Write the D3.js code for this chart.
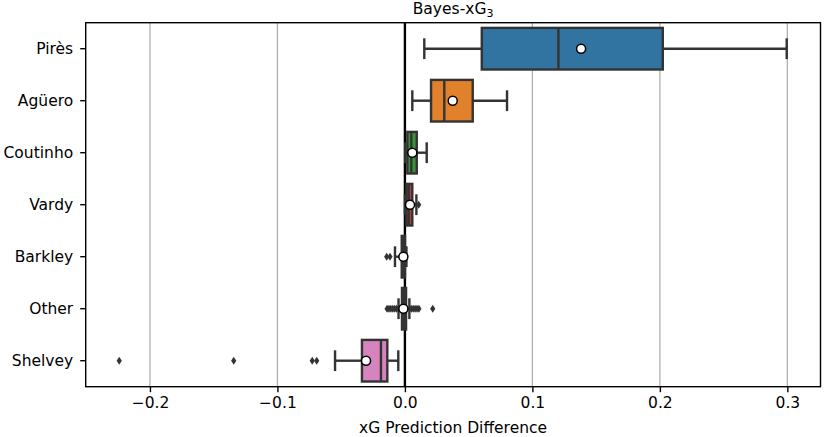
<!DOCTYPE html>
<html>
<head>
<meta charset="utf-8">
<script src="https://cdn.jsdelivr.net/npm/d3@7"></script>
<style>
  body { margin: 0; background: #fff; }
  text { font-family: "DejaVu Sans", sans-serif; fill: #000; }
</style>
</head>
<body>
<div id="chart"></div>
<script>
// values
const players = ["Pirès", "Agüero", "Coutinho", "Vardy", "Barkley", "Other", "Shelvey"];
const whiskerLow = [0.0152, 0.0058, 0.0003, 0.0000, -0.0078, -0.0050, -0.0548];
const q1 = [0.0603, 0.0205, 0.0019, 0.0012, -0.0025, -0.0023, -0.0337];
const medians = [0.1204, 0.0309, 0.0050, 0.0030, -0.0010, -0.0005, -0.0188];
const q3 = [0.2023, 0.0532, 0.0093, 0.0058, 0.0001, 0.0009, -0.0138];
const whiskerHigh = [0.2995, 0.0801, 0.0171, 0.0090, 0.0012, 0.0035, -0.0052];
const means = [0.1382, 0.0375, 0.0058, 0.0040, -0.0012, -0.0012, -0.0305];
const outliers = [
  [],
  [],
  [],
  [0.0108],
  [-0.0143, -0.0117],
  [-0.0140, -0.0125, -0.0110, -0.0095, -0.0080, -0.0065, 0.0050, 0.0065, 0.0080, 0.0095, 0.0110, 0.0218],
  [-0.2241, -0.1343, -0.0727, -0.0692]
];
const colors = ["#3274a1", "#e1812c", "#3a923a", "#c03d3e", "#9372b2", "#845b53", "#d684bd"];
const xTicks = [-0.2, -0.1, 0.0, 0.1, 0.2, 0.3];

const margin = {top: 22.7, right: 3.5, bottom: 50.3, left: 85.7};
const W = 824, H = 437;
const width = W - margin.left - margin.right;
const height = H - margin.top - margin.bottom;
const edge = "#333";
const lw = 2.4;

const svg = d3.select("#chart").append("svg")
  .attr("width", W)
  .attr("height", H);

const g = svg.append("g")
  .attr("transform", `translate(${margin.left},${margin.top})`);

const x = d3.scaleLinear()
  .domain([-0.2504, 0.326])
  .range([0, width]);

const y = d3.scaleBand()
  .domain(players)
  .range([0, height])
  .padding(0);

// grid
g.selectAll(".grid")
  .data(xTicks)
  .enter().append("line")
  .attr("x1", d => x(d)).attr("x2", d => x(d))
  .attr("y1", 0).attr("y2", height)
  .attr("stroke", "#b0b0b0")
  .attr("stroke-width", 1.3);

// zero line
g.append("line")
  .attr("x1", x(0)).attr("x2", x(0))
  .attr("y1", 0).attr("y2", height)
  .attr("stroke", "#000")
  .attr("stroke-width", 2.4);

const boxH = y.bandwidth() * 0.8;
const capH = boxH / 2;

const rows = g.selectAll(".row")
  .data(players)
  .enter().append("g")
  .attr("class", "row")
  .attr("transform", d => `translate(0,${y(d) + y.bandwidth() / 2})`);

// whiskers
rows.append("line")
  .attr("x1", (d, i) => x(whiskerLow[i])).attr("x2", (d, i) => x(q1[i]))
  .attr("stroke", edge).attr("stroke-width", lw);
rows.append("line")
  .attr("x1", (d, i) => x(q3[i])).attr("x2", (d, i) => x(whiskerHigh[i]))
  .attr("stroke", edge).attr("stroke-width", lw);
rows.append("line")
  .attr("x1", (d, i) => x(whiskerLow[i])).attr("x2", (d, i) => x(whiskerLow[i]))
  .attr("y1", -capH / 2).attr("y2", capH / 2)
  .attr("stroke", edge).attr("stroke-width", lw);
rows.append("line")
  .attr("x1", (d, i) => x(whiskerHigh[i])).attr("x2", (d, i) => x(whiskerHigh[i]))
  .attr("y1", -capH / 2).attr("y2", capH / 2)
  .attr("stroke", edge).attr("stroke-width", lw);

// boxes
rows.append("rect")
  .attr("x", (d, i) => x(q1[i]))
  .attr("width", (d, i) => x(q3[i]) - x(q1[i]))
  .attr("y", -boxH / 2)
  .attr("height", boxH)
  .attr("fill", (d, i) => colors[i])
  .attr("stroke", edge)
  .attr("stroke-width", lw);

// medians
rows.append("line")
  .attr("x1", (d, i) => x(medians[i])).attr("x2", (d, i) => x(medians[i]))
  .attr("y1", -boxH / 2).attr("y2", boxH / 2)
  .attr("stroke", edge).attr("stroke-width", lw);

// outliers (diamonds)
const diamond = "M0,-4L2.6,0L0,4L-2.6,0Z";
rows.each(function(d, i) {
  d3.select(this).selectAll(".out")
    .data(outliers[i])
    .enter().append("path")
    .attr("d", diamond)
    .attr("transform", v => `translate(${x(v)},0)`)
    .attr("fill", edge);
});

// means
rows.append("circle")
  .attr("cx", (d, i) => x(means[i]))
  .attr("r", 4.5)
  .attr("fill", "#fff")
  .attr("stroke", "#000")
  .attr("stroke-width", 1.5);

// frame
g.append("rect")
  .attr("width", width).attr("height", height)
  .attr("fill", "none")
  .attr("stroke", "#000")
  .attr("stroke-width", 1.4);

// axes
const xAxis = g.append("g")
  .attr("transform", `translate(0,${height})`)
  .call(d3.axisBottom(x).tickValues(xTicks).tickSize(5.5).tickPadding(5)
    .tickFormat(d => d3.format(".1f")(d).replace("-", "\u2212")));
const yAxis = g.append("g")
  .call(d3.axisLeft(y).tickSize(5.5).tickPadding(7));

[xAxis, yAxis].forEach(a => {
  a.select(".domain").remove();
  a.selectAll(".tick line").attr("stroke", "#000").attr("stroke-width", 1.4);
  a.selectAll("text").style("font-size", "15.5px").attr("fill", "#000");
});

// title
const title = svg.append("text")
  .attr("x", margin.left + width / 2)
  .attr("y", 14)
  .attr("text-anchor", "middle")
  .style("font-size", "15.5px");
title.append("tspan").text("Bayes-xG");
title.append("tspan").attr("dy", 3).style("font-size", "11px").text("3");

// x label
svg.append("text")
  .attr("x", margin.left + width / 2)
  .attr("y", 433)
  .attr("text-anchor", "middle")
  .style("font-size", "15.5px")
  .text("xG Prediction Difference");
</script>
</body>
</html>
